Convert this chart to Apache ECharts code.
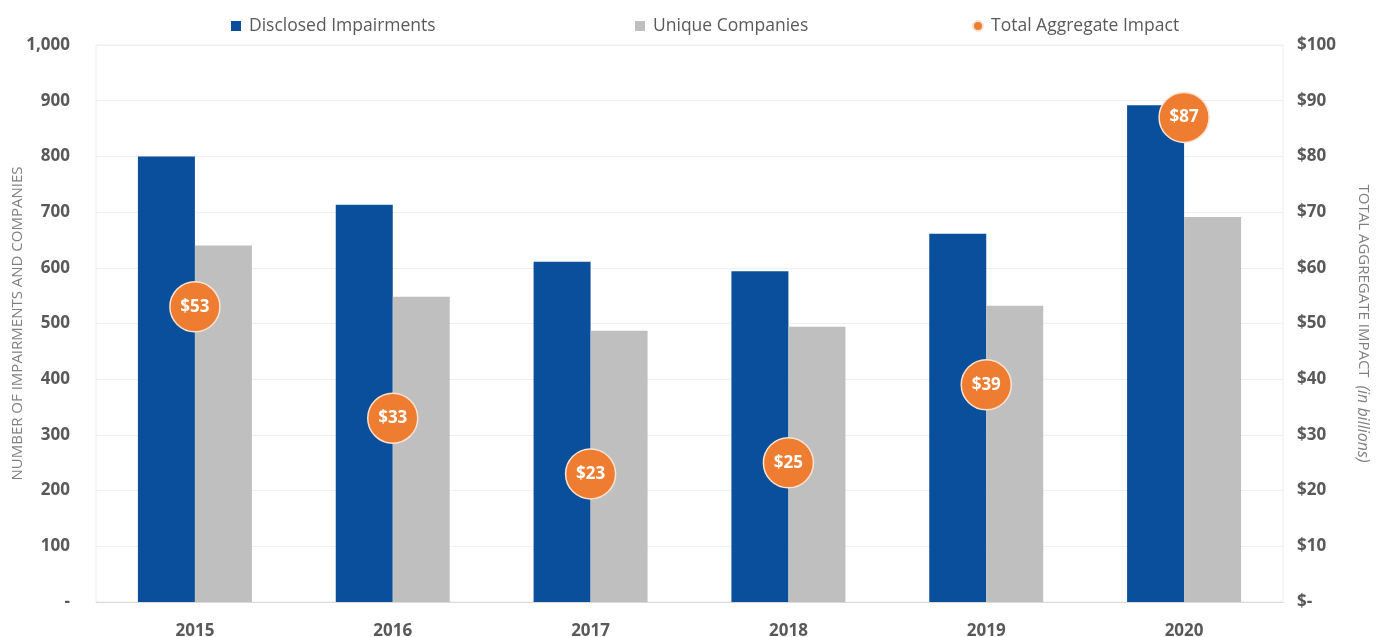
<!DOCTYPE html>
<html>
<head>
<meta charset="utf-8">
<script src="https://cdn.jsdelivr.net/npm/echarts@6/dist/echarts.min.js"></script>
<style>
  html, body { margin: 0; padding: 0; background: #ffffff; }
  #chart { width: 1380px; height: 637px; }
</style>
</head>
<body>
<div id="chart"></div>
<script>
// Impairment counts and aggregate impact by year
const years = ['2015', '2016', '2017', '2018', '2019', '2020'];
const disclosedImpairments = [800, 713, 611, 594, 661, 892];
const uniqueCompanies = [640, 548, 487, 494, 532, 691];
const totalAggregateImpact = [53, 33, 23, 25, 39, 87];

const FONT = '"Open Sans", "Noto Sans", sans-serif';
const BLUE = '#0A4F9B';
const GRAY = '#BFBFBF';
const ORANGE = '#EE7D31';
const TEXT = '#595959';

const chart = echarts.init(document.getElementById('chart'));

const legendBase = {
  top: 12,
  itemWidth: 10,
  itemHeight: 10,
  itemGap: 6,
  textStyle: { fontFamily: FONT, fontSize: 17.5, color: TEXT, padding: [0, 0, 0, 3] },
  selectedMode: false
};

chart.setOption({
  animation: false,
  backgroundColor: '#ffffff',
  legend: [
    Object.assign({}, legendBase, { left: 226, data: [{ name: 'Disclosed Impairments', icon: 'rect' }] }),
    Object.assign({}, legendBase, { left: 630, data: [{ name: 'Unique Companies', icon: 'rect' }] }),
    Object.assign({}, legendBase, { left: 967, data: [{ name: 'Total Aggregate Impact', icon: 'circle' }] })
  ],
  grid: {
    left: 96, right: 97, top: 45, bottom: 35,
    outerBoundsMode: 'none',
    containLabel: false,
    show: true, borderColor: '#ececec', borderWidth: 1
  },
  xAxis: {
    type: 'category',
    data: years,
    axisLine: { lineStyle: { color: '#d9d9d9' } },
    axisTick: { show: false },
    axisLabel: { fontFamily: FONT, fontSize: 17, fontWeight: 'bold', color: TEXT, margin: 21 }
  },
  yAxis: [
    {
      type: 'value', min: 0, max: 1000, interval: 100,
      name: 'NUMBER OF IMPAIRMENTS AND COMPANIES',
      nameLocation: 'middle', nameGap: 71, nameMoveOverlap: false,
      nameTextStyle: { fontFamily: FONT, fontSize: 15, color: '#7f7f7f' },
      axisLine: { show: false }, axisTick: { show: false },
      splitLine: { lineStyle: { color: '#f0f0f0' } },
      axisLabel: {
        fontFamily: FONT, fontSize: 17, fontWeight: 'bold', color: TEXT, margin: 26,
        formatter: v => v === 0 ? '-' : v.toLocaleString('en-US')
      }
    },
    {
      type: 'value', min: 0, max: 100, interval: 10,
      name: '{a|TOTAL AGGREGATE IMPACT  }{b|(in billions)}',
      nameLocation: 'middle', nameGap: 72, nameRotate: -90, nameMoveOverlap: false,
      nameTextStyle: {
        fontFamily: FONT, fontSize: 15, color: '#7f7f7f',
        rich: {
          a: { fontFamily: FONT, fontSize: 15, color: '#7f7f7f' },
          b: { fontFamily: FONT, fontSize: 16, color: '#7f7f7f', fontStyle: 'italic' }
        }
      },
      axisLine: { show: false }, axisTick: { show: false },
      splitLine: { show: false },
      axisLabel: {
        fontFamily: FONT, fontSize: 17, fontWeight: 'bold', color: TEXT, margin: 14,
        formatter: v => v === 0 ? '$-' : '$' + v
      }
    }
  ],
  series: [
    {
      name: 'Disclosed Impairments', type: 'bar', data: disclosedImpairments,
      barWidth: 57, barGap: '0%', itemStyle: { color: BLUE }
    },
    {
      name: 'Unique Companies', type: 'bar', data: uniqueCompanies,
      barWidth: 57, barGap: '0%', itemStyle: { color: GRAY }
    },
    {
      name: 'Total Aggregate Impact', type: 'scatter', yAxisIndex: 1,
      data: totalAggregateImpact, symbolSize: 50, z: 5,
      itemStyle: { color: ORANGE, borderColor: '#fbe3d2', borderWidth: 1.5, opacity: 1 },
      label: {
        show: true, position: 'inside',
        fontFamily: FONT, fontSize: 17, fontWeight: 'bold', color: '#ffffff',
        formatter: p => '$' + p.value
      }
    }
  ]
});
</script>
</body>
</html>
